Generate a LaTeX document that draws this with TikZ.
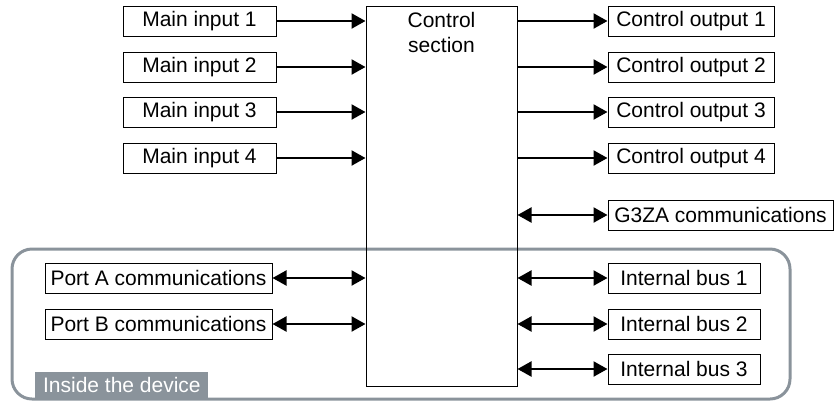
\documentclass[tikz,border=0pt]{standalone}
\usepackage{fontspec}
\setmainfont{Liberation Sans}
\usetikzlibrary{arrows.meta}
\definecolor{devgray}{RGB}{138,147,155}
\begin{document}
\begin{tikzpicture}[x=0.5pt,y=-0.5pt,
  every node/.style={font=\fontsize{10.5}{12.5}\selectfont},
  sbox/.style={draw=black,line width=0.5pt,minimum height=15pt,inner sep=0pt,fill=white},
  oneway/.style={line width=1.1pt,-{Triangle[length=7pt,width=7.5pt]}},
  twoway/.style={line width=1.1pt,{Triangle[length=7pt,width=7.5pt]}-{Triangle[length=7pt,width=7.5pt]}}]
\useasboundingbox (0,0) rectangle (840,403);
% device region
\node[fill=devgray,text=white,minimum width=86.5pt,minimum height=13pt,inner sep=0pt,anchor=north west] (devlabel) at (35,372) {Inside the device};
\draw[devgray,line width=1.5pt,rounded corners=10pt] (12,249) rectangle (790,399);
% control section
\node[draw=black,line width=0.5pt,minimum width=75.5pt,minimum height=190pt,inner sep=0pt] (ctrl) at (441.5,196) {};
\node[align=center] (ctrltext) at (441.5,32.5) {Control\\section};
% inputs
\foreach \i/\y in {1/21,2/67,3/112,4/158}{
  \node[sbox,minimum width=76.5pt] (in\i) at (199.5,\y) {Main input \i};
  \node[sbox,minimum width=83pt] (out\i) at (691,\y) {Control output \i};
  \draw[oneway] (in\i.east) -- (in\i.east -| ctrl.west);
  \draw[oneway] (out\i.west -| ctrl.east) -- (out\i.west);
}
\node[sbox,minimum width=112.5pt] (g3za) at (720.5,215) {G3ZA communications};
\draw[twoway] (g3za.west -| ctrl.east) -- (g3za.west);
\node[sbox,minimum width=113.5pt] (portA) at (158.5,278) {Port A communications};
\node[sbox,minimum width=113.5pt] (portB) at (158.5,324) {Port B communications};
\draw[twoway] (portA.east) -- (portA.east -| ctrl.west);
\draw[twoway] (portB.east) -- (portB.east -| ctrl.west);
\foreach \i/\y in {1/278,2/324,3/369}{
  \node[sbox,minimum width=76pt] (bus\i) at (684,\y) {Internal bus \i};
  \draw[twoway] (bus\i.west -| ctrl.east) -- (bus\i.west);
}
\end{tikzpicture}
\end{document}
